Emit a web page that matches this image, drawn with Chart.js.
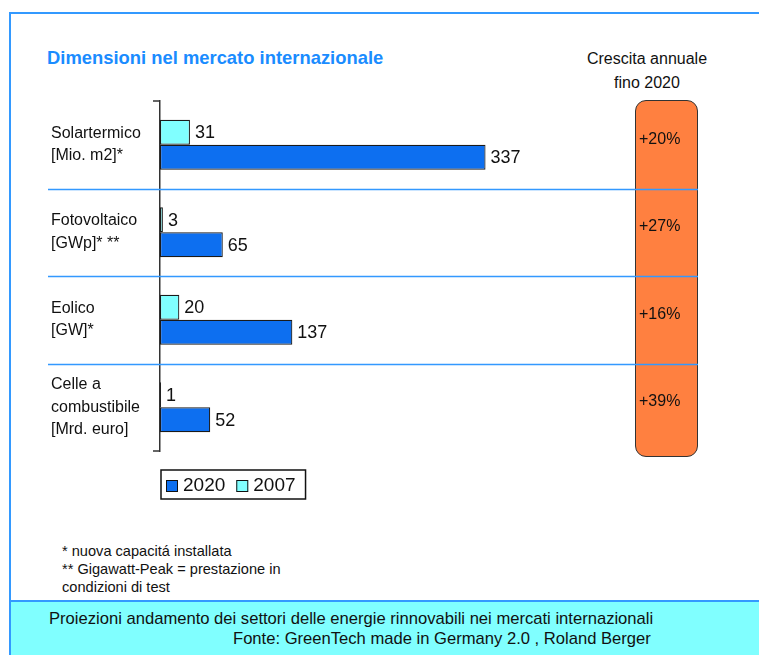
<!DOCTYPE html>
<html>
<head>
<meta charset="utf-8">
<script src="https://cdn.jsdelivr.net/npm/chart.js@4.4.1/dist/chart.umd.min.js"></script>
<style>
    body { margin: 0; background: #fff; font-family: "Liberation Sans", Arial, sans-serif; }
    #page { position: relative; width: 759px; height: 655px; overflow: hidden; }
    #frame { position: absolute; left: 9px; top: 12px; width: 760px; height: 600px;
             border-top: 2px solid #3399ff; border-left: 2px solid #3399ff; }
    #title { position: absolute; left: 47px; top: 47px; font-size: 18.4px; font-weight: bold; color: #1a8cff; }
    #growth-head { position: absolute; left: 567px; top: 47px; width: 160px; text-align: center;
                   font-size: 16px; line-height: 24px; color: #111; }
    #growth-box { position: absolute; left: 635px; top: 100px; width: 61px; height: 355px;
                  background: #ff8040; border: 1px solid #333; border-radius: 11px; }
    .growth { position: absolute; left: 639px; font-size: 16px; color: #111; z-index: 3; }
    #notes { position: absolute; left: 62px; top: 542px; font-size: 14.6px; line-height: 18px; color: #111; }
    #band { position: absolute; left: 9px; top: 600px; width: 760px; height: 60px; background: #80ffff;
            border-top: 2px solid #3399ff; border-left: 2px solid #3399ff; }
    .src { position: absolute; font-size: 16.6px; color: #111; white-space: nowrap; }
    #chart-wrap { position: absolute; left: 0; top: 0; width: 759px; height: 655px; z-index: 2; }
</style>
</head>
<body>
<div id="page">
    <div id="frame"></div>
    <div id="title">Dimensioni nel mercato internazionale</div>
    <div id="growth-head">Crescita annuale<br>fino 2020</div>
    <div id="growth-box"></div>
    <div id="notes">* nuova capacitá installata<br>** Gigawatt-Peak = prestazione in<br>condizioni di test</div>
    <div id="band"></div>
    <div class="src" style="left:49px; top:609px;">Proiezioni andamento dei settori delle energie rinnovabili nei mercati internazionali</div>
    <div class="src" style="left:233px; top:629px;">Fonte: GreenTech made in Germany 2.0 , Roland Berger</div>
    <div id="chart-wrap"><canvas id="market-chart" width="759" height="655"></canvas></div>
</div>
<script>
// sectors and their units
const categories = [
    ['Solartermico', '[Mio. m2]*'],
    ['Fotovoltaico', '[GWp]* **'],
    ['Eolico', '[GW]*'],
    ['Celle a', 'combustibile', '[Mrd. euro]']
];
const years = ['2007', '2020'];
const values2007 = [31, 3, 20, 1];
const values2020 = [337, 65, 137, 52];
const growthLabels = ['+20%', '+27%', '+16%', '+39%'];

const colors = { '2007': '#80ffff', '2020': '#0d6ff0' };
const FONT = '"Liberation Sans", Arial, sans-serif';

// growth percentages sit inside the orange column, one per sector
const growthEls = growthLabels.map(txt => {
    const el = document.createElement('div');
    el.className = 'growth';
    el.textContent = txt;
    document.getElementById('page').appendChild(el);
    return el;
});

// value written right after each bar
const valueLabels = {
    id: 'valueLabels',
    afterDatasetsDraw(chart) {
        const ctx = chart.ctx;
        ctx.save();
        ctx.font = '18px ' + FONT;
        ctx.fillStyle = '#111';
        ctx.textBaseline = 'middle';
        chart.data.datasets.forEach((ds, i) => {
            chart.getDatasetMeta(i).data.forEach((bar, j) => {
                ctx.fillText(String(ds.data[j]), bar.x + 5, bar.y + 1);
            });
        });
        ctx.restore();
    }
};

// blue separators between sectors, axis end ticks and the boxed legend
const decorations = {
    id: 'decorations',
    afterDraw(chart) {
        const ctx = chart.ctx;
        const y = chart.scales.y;
        const area = chart.chartArea;
        ctx.save();

        ctx.strokeStyle = '#3399ff';
        ctx.lineWidth = 1.5;
        for (let i = 0; i < categories.length - 1; i++) {
            const py = Math.round((y.getPixelForValue(i) + y.getPixelForValue(i + 1)) / 2) + 0.5;
            ctx.beginPath();
            ctx.moveTo(48, py);
            ctx.lineTo(698, py);
            ctx.stroke();
        }

        ctx.strokeStyle = '#333';
        ctx.lineWidth = 1.5;
        [area.top, area.bottom].forEach(py => {
            ctx.beginPath();
            ctx.moveTo(153, py);
            ctx.lineTo(area.left, py);
            ctx.stroke();
        });

        // legend: 2020 first, then 2007
        const lx = area.left + 1, ly = area.bottom + 19;
        ctx.font = '19px ' + FONT;
        ctx.textBaseline = 'middle';
        let x = lx + 5;
        const order = chart.data.datasets.slice().reverse();
        order.forEach(ds => {
            ctx.fillStyle = ds.backgroundColor;
            ctx.fillRect(x, ly + 10, 12, 12);
            ctx.strokeStyle = '#111';
            ctx.lineWidth = 1;
            ctx.strokeRect(x + 0.5, ly + 10.5, 11, 11);
            ctx.fillStyle = '#111';
            ctx.fillText(ds.label, x + 17, ly + 16);
            x += 17 + ctx.measureText(ds.label).width + 11;
        });
        ctx.strokeStyle = '#111';
        ctx.lineWidth = 1.5;
        ctx.strokeRect(lx, ly, x - lx - 1, 29);

        ctx.restore();

        growthEls.forEach((el, i) => {
            el.style.top = (y.getPixelForValue(i) - 15) + 'px';
        });
    }
};

new Chart(document.getElementById('market-chart'), {
    type: 'bar',
    data: {
        labels: categories,
        datasets: [
            { label: years[0], data: values2007, backgroundColor: colors['2007'] },
            { label: years[1], data: values2020, backgroundColor: colors['2020'] }
        ]
    },
    options: {
        indexAxis: 'y',
        responsive: false,
        animation: false,
        layout: { padding: { left: 51, top: 101, right: 116, bottom: 204 } },
        datasets: {
            bar: {
                borderColor: '#1a1a1a',
                borderWidth: 1.2,
                borderSkipped: false,
                categoryPercentage: 0.57,
                barPercentage: 1.0
            }
        },
        plugins: {
            legend: { display: false },
            tooltip: { enabled: false }
        },
        scales: {
            x: { display: false, min: 0, max: 500 },
            y: {
                grid: { display: false, drawTicks: false },
                border: { display: true, color: '#333', width: 1.5 },
                afterFit: scale => { scale.width = 109; },
                ticks: {
                    autoSkip: false,
                    crossAlign: 'far',
                    color: '#111',
                    font: { family: FONT, size: 16, lineHeight: 1.4 }
                }
            }
        }
    },
    plugins: [valueLabels, decorations]
});
</script>
</body>
</html>
